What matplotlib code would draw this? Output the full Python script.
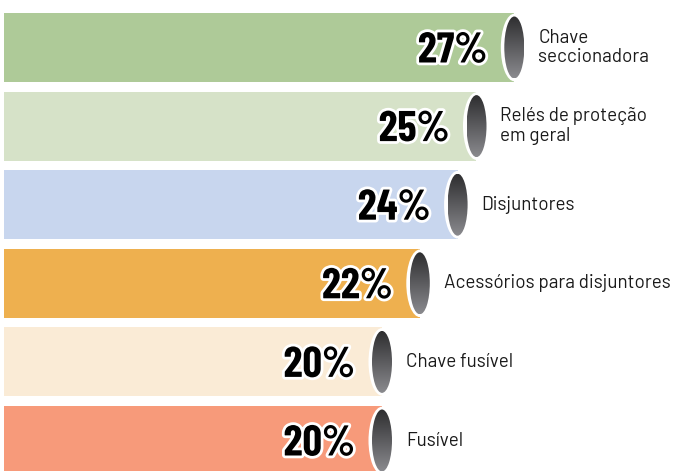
import matplotlib
matplotlib.use("Agg")
import matplotlib.pyplot as plt
import matplotlib.patheffects as pe
import numpy as np
from matplotlib.patches import Ellipse
from matplotlib.colors import LinearSegmentedColormap

labels = ["Chave\nseccionadora", "Relés de proteção\nem geral", "Disjuntores",
          "Acessórios para disjuntores", "Chave fusível", "Fusível"]
values = [27, 25, 24, 22, 20, 20]
colors = ["#aeca98", "#d6e2c8", "#c8d6ee", "#eeb04f", "#faebd6", "#f79a7a"]

# pixel scale of the layout
px_x = 18.9   # pixels per percent
px_y = 78.6   # pixels per row

fig = plt.figure(figsize=(6.78, 4.71), dpi=100)
ax = fig.add_axes([0, 0, 1, 1])
ax.axis("off")

rows = np.arange(len(values))
ax.barh(rows, values, height=0.88, color=colors, left=0, zorder=1)

cap_cmap = LinearSegmentedColormap.from_list("cap", ["#2e2e30", "#8a8a8e"])
grad = np.linspace(0, 1, 100).reshape(-1, 1)
for i, v in enumerate(values):
    # white rim of the cylinder end
    ax.add_patch(Ellipse((v, i), 27 / px_x, 0.86, facecolor="white",
                         edgecolor="none", zorder=2))
    w = 20 / px_x
    h = 62 / px_y
    face = Ellipse((v, i), w, h, facecolor="none", edgecolor="none", zorder=3)
    ax.add_patch(face)
    im = ax.imshow(grad, cmap=cap_cmap, aspect="auto", interpolation="bilinear",
                   extent=(v - w / 2, v + w / 2, i + h / 2, i - h / 2), zorder=3)
    im.set_clip_path(face)

    ax.text(v - 27 / px_x, i + 15 / px_y, f"{v}%", ha="right", va="baseline",
            fontsize=31, fontweight="bold", color="black",
            family=["Barlow Condensed", "Roboto", "DejaVu Sans"],
            path_effects=[pe.withStroke(linewidth=4, foreground="white")], zorder=4)
    ax.text(v + 24 / px_x, i, labels[i], ha="left", va="center", fontsize=13.6,
            color="#1a1a1a", family=["Barlow", "Roboto", "DejaVu Sans"],
            linespacing=1.1, zorder=4)

ax.set_xlim(-4 / px_x, 674 / px_x)
ax.set_ylim((471 - 47.5) / px_y, -47.5 / px_y)

fig.savefig("out.png", dpi=100)
